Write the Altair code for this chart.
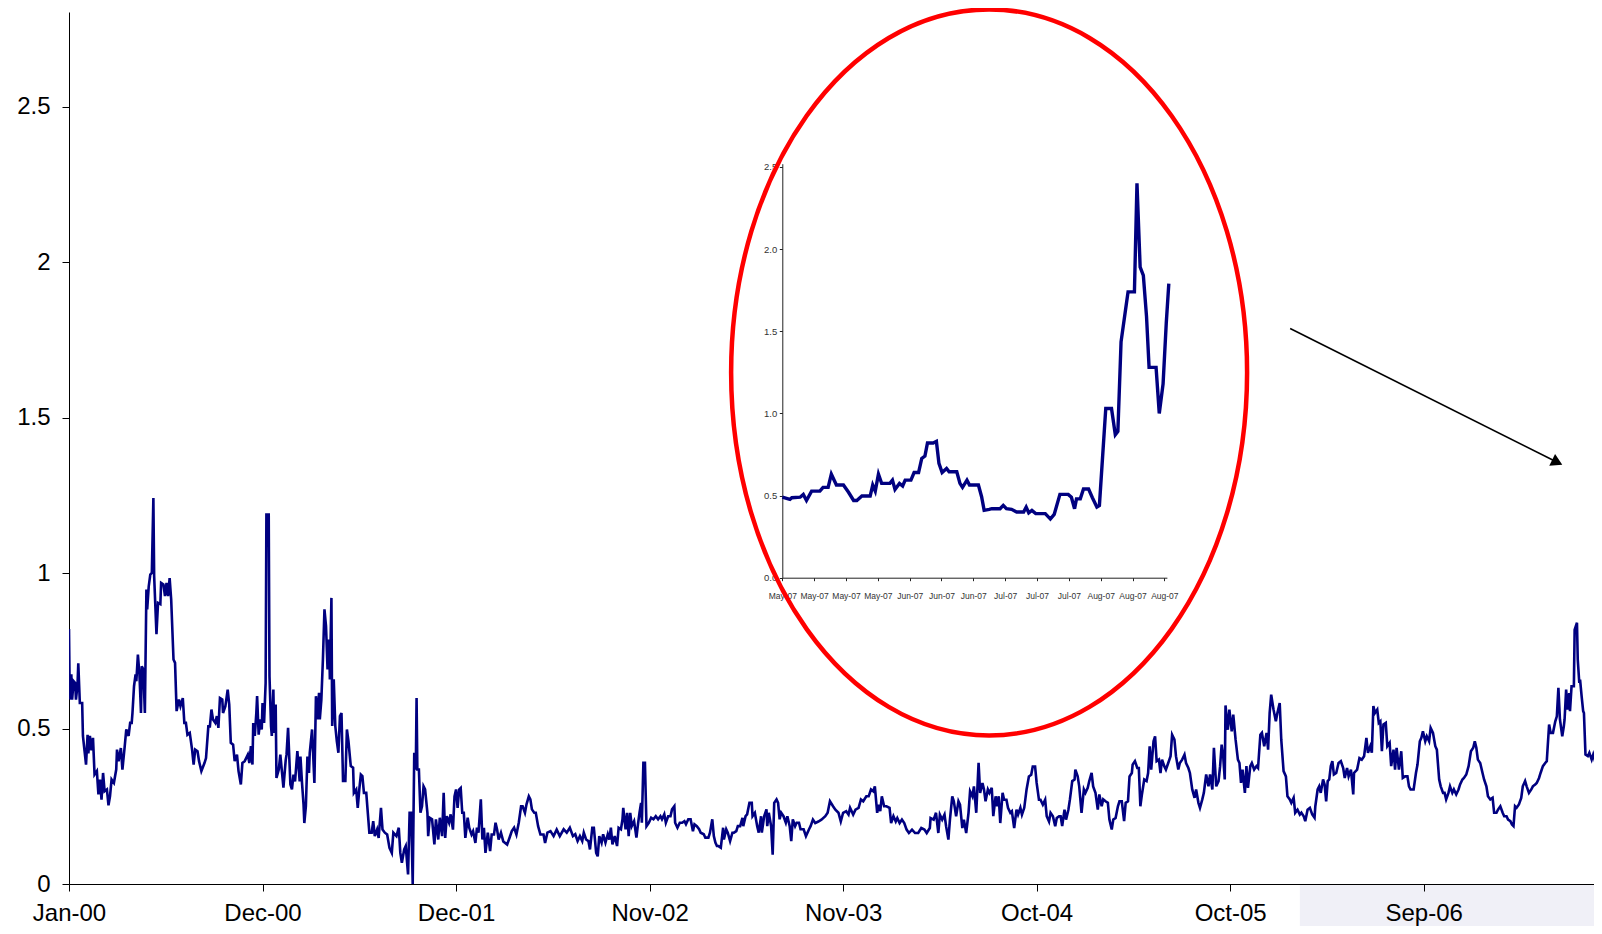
import json
import altair as alt
import pandas as pd

# ---------------- data (trading-day index, value) ----------------
seg_2000 = [(0,0.82),(1,0.593),(3,0.674),(4,0.593),(6,0.652),(8,0.646),(9,0.593),(11,0.64),(12,0.71),(14,0.582),
            (17,0.582),(18,0.476),(20,0.43),(22,0.384),(24,0.48),(25,0.42),(27,0.476),(29,0.43),(31,0.47),(33,0.352),
            (36,0.363),(38,0.288),(40,0.336),(42,0.271),(44,0.357),(46,0.298),(49,0.304),(51,0.253),(53,0.283),(55,0.336),
            (58,0.325),(61,0.368),(62,0.432),(64,0.395),(67,0.437),(69,0.368),(72,0.443),(74,0.497),(77,0.476),(79,0.518),
            (81,0.518),(82,0.55),(84,0.636),(86,0.674),(87,0.652),(89,0.738),(91,0.674),(93,0.55),(94,0.70),(96,0.69),
            (98,0.55),(100,0.947),(101,0.883),(103,0.957),(105,0.995),(107,1.0),(109,1.241),(110,0.99),(113,0.803),(115,0.904),
            (118,0.90),(119,0.968),(122,0.963),(124,0.926),(126,0.968),(128,0.926),(130,0.984),(132,0.915),(135,0.722),(137,0.711),
            (139,0.556),(142,0.593),(144,0.572),(147,0.598),(149,0.518),(151,0.518),(153,0.48),(156,0.486),(159,0.432),(161,0.384),
            (163,0.432),(166,0.427),(168,0.395),(171,0.363),(175,0.389),(177,0.405),(180,0.507),(182,0.507),(184,0.561),(186,0.529),
            (189,0.518),(191,0.54),(193,0.502),(195,0.598),(198,0.593),(199,0.55),(202,0.572),(205,0.625),(207,0.577),(209,0.454),
            (212,0.448),(214,0.395),(217,0.416),(219,0.363),(222,0.32),(224,0.389),(227,0.395),(231,0.416),(233,0.389),(235,0.443),
            (237,0.384),(238,0.518),(240,0.476),(242,0.55),(243,0.604),(245,0.48),(247,0.529),(249,0.497),(250,0.582),(252,0.518),
            (254,0.646),(255,1.188),(258,1.188),(259,0.668),(261,0.507),(262,0.476),(264,0.625),(265,0.486),(267,0.577),(268,0.341),
            (271,0.368),(273,0.416),(275,0.363),(277,0.31),(280,0.40),(281,0.416),(283,0.502),(286,0.32),(288,0.304),(290,0.352),
            (292,0.33),(295,0.427),(298,0.33),(299,0.41),(301,0.325),(303,0.255),(304,0.196),(306,0.25),(308,0.41),(310,0.357)]

seg_2001 = [(311,0.422),(314,0.497),(317,0.325),(319,0.604),(321,0.529),(323,0.615),(324,0.529),(326,0.593),(328,0.722),(330,0.883),
            (332,0.829),(334,0.69),(336,0.786),(337,0.658),(339,0.92),(340,0.508),(342,0.658),(344,0.508),(346,0.459),(348,0.422),
            (350,0.54),(352,0.55),(354,0.331),(357,0.331),(359,0.497),(361,0.459),(364,0.379),(367,0.374),(368,0.293),(371,0.304),
            (373,0.245),(375,0.304),(377,0.352),(379,0.347),(381,0.293),(384,0.293),(386,0.229),(388,0.165),(391,0.165),(393,0.202),
            (395,0.154),(398,0.175),(400,0.148),(403,0.245),(405,0.175),(408,0.165),(411,0.159),(414,0.116),(417,0.1),(419,0.165),
            (423,0.154),(426,0.181),(428,0.1),(430,0.068),(433,0.111),(435,0.122),(438,0.031),(440,0.229),(442,0.229),(444,0.0),
            (446,0.422),(448,0.368),(449,0.598),(450,0.368),(452,0.368),(454,0.229),(456,0.25),(458,0.314),(460,0.304),(463,0.229),
            (464,0.154),(466,0.213),(469,0.208),(472,0.127),(474,0.208),(477,0.143),(479,0.213),(482,0.154),(484,0.293),(486,0.148),
            (488,0.218),(491,0.197),(493,0.224),(496,0.175),(498,0.282),(500,0.304),(502,0.245),(504,0.304),(506,0.309),(508,0.229),
            (510,0.229),(512,0.148),(515,0.213),(517,0.181),(520,0.159),(522,0.17),(525,0.132),(527,0.181),(529,0.165),(532,0.272),
            (534,0.143),(536,0.181),(538,0.1),(541,0.165),(544,0.106),(546,0.159),(549,0.159),(551,0.197),(553,0.175),(555,0.143),
            (558,0.165),(561,0.137),(566,0.127),(569,0.148),(572,0.17),(575,0.181),(578,0.159),(581,0.197),(584,0.25),(586,0.25),
            (589,0.229),(591,0.256),(594,0.282),(596,0.272),(598,0.24),(601,0.229),(603,0.229),(606,0.186),(609,0.159),(613,0.159),
            (615,0.132),(618,0.165),(622,0.17),(626,0.154),(630,0.175)]

seg_2002 = [(634,0.154),(639,0.176),(643,0.165),(647,0.181),(651,0.154),(654,0.16),(657,0.138),(660,0.154),(663,0.138),(665,0.165),
            (668,0.143),(671,0.138),(673,0.111),(676,0.181),(678,0.181),(681,0.1),(683,0.089),(685,0.154),(688,0.133),(690,0.16),
            (693,0.133),(696,0.16),(698,0.143),(700,0.181),(702,0.127),(705,0.154),(708,0.122),(710,0.181),(713,0.176),(715,0.208),
            (716,0.245),(719,0.176),(721,0.229),(723,0.154),(725,0.229),(727,0.186),(730,0.202),(733,0.149),(735,0.192),(737,0.229),
            (739,0.261),(740,0.197),(742,0.39),(744,0.39),(746,0.186),(749,0.197),(752,0.213),(755,0.208),(758,0.218),(761,0.208),
            (764,0.218),(766,0.208),(769,0.224),(771,0.197),(774,0.218),(777,0.218),(779,0.24),(782,0.25),(783,0.197),(786,0.181),
            (789,0.197),(792,0.197),(795,0.202),(797,0.192),(800,0.208),(803,0.208),(806,0.17),(808,0.192),(811,0.186),(814,0.176),
            (816,0.165),(820,0.16),(822,0.149),(826,0.149),(828,0.165),(831,0.208),(833,0.154),(835,0.133),(837,0.122),(839,0.122),
            (842,0.117),(845,0.181),(846,0.143),(849,0.176),(851,0.165),(854,0.138),(857,0.165),(859,0.165),(862,0.17),(864,0.186),
            (867,0.186),(870,0.213),(871,0.186),(874,0.218),(876,0.224),(879,0.261),(882,0.261),(883,0.218),(886,0.229),(889,0.186),
            (891,0.165),(894,0.218),(895,0.165),(898,0.218),(901,0.24),(902,0.186),(904,0.229),(907,0.186),(909,0.094),(911,0.261),
            (914,0.272),(916,0.261),(918,0.208),(920,0.229),(923,0.218),(926,0.197),(928,0.218),(931,0.186),(933,0.138),(935,0.208),
            (938,0.186),(940,0.197),(943,0.197),(945,0.176),(949,0.176),(952,0.154),(956,0.176),(958,0.186)]

seg_2003 = [(961,0.207),(964,0.196),(968,0.201),(972,0.207),(977,0.218),(980,0.229),(983,0.266),(987,0.25),(990,0.239),(994,0.229),
            (997,0.201),(1000,0.229),(1004,0.234),(1007,0.223),(1009,0.245),(1013,0.223),(1016,0.239),(1020,0.245),(1023,0.272),(1026,0.266),
            (1030,0.282),(1033,0.282),(1036,0.304),(1039,0.298),(1041,0.314),(1044,0.229),(1046,0.255),(1048,0.234),(1050,0.282),(1053,0.25),
            (1056,0.25),(1060,0.245),(1062,0.196),(1065,0.218),(1068,0.201),(1070,0.212),(1073,0.196),(1076,0.207),(1079,0.196),(1082,0.175),
            (1085,0.164),(1089,0.175),(1093,0.164),(1097,0.164),(1101,0.18),(1105,0.175),(1108,0.164),(1112,0.18),(1113,0.212),(1117,0.207),
            (1120,0.229),(1123,0.164),(1125,0.223),(1128,0.207),(1131,0.223),(1133,0.186),(1136,0.143),(1138,0.207),(1141,0.282),(1143,0.266),
            (1146,0.218),(1149,0.266),(1151,0.255),(1154,0.18),(1156,0.207),(1159,0.164),(1162,0.229),(1164,0.298),(1167,0.282),(1169,0.314),
            (1172,0.229),(1175,0.39),(1177,0.293),(1180,0.325),(1182,0.304),(1184,0.266),(1187,0.304),(1189,0.293),(1192,0.309),(1194,0.218),
            (1197,0.282),(1199,0.25),(1201,0.282),(1203,0.196),(1206,0.293),(1208,0.271),(1211,0.271),(1213,0.245),(1216,0.229),(1218,0.234),
            (1221,0.18),(1224,0.239),(1226,0.223),(1229,0.245),(1231,0.223),(1234,0.245),(1237,0.304),(1240,0.346),(1243,0.351),(1245,0.378),
            (1248,0.378),(1250,0.325),(1253,0.271),(1255,0.271),(1258,0.255),(1261,0.271),(1263,0.218),(1266,0.201),(1268,0.229),(1271,0.218),
            (1274,0.186),(1276,0.212),(1279,0.218),(1281,0.218)]

seg_2005 = [(1283,0.186),(1286,0.239),(1288,0.207),(1291,0.239),(1293,0.272),(1296,0.331),(1299,0.336),(1300,0.368),(1303,0.346),(1305,0.314),
            (1308,0.229),(1311,0.304),(1313,0.293),(1316,0.309),(1318,0.331),(1321,0.357),(1323,0.314),(1326,0.293),(1329,0.239),(1331,0.288),
            (1334,0.25),(1336,0.272),(1339,0.266),(1342,0.261),(1344,0.207),(1347,0.175),(1349,0.207),(1352,0.212),(1355,0.25),(1357,0.266),
            (1360,0.266),(1363,0.202),(1365,0.261),(1368,0.266),(1370,0.346),(1373,0.357),(1374,0.384),(1377,0.395),(1380,0.373),(1382,0.373),
            (1384,0.25),(1386,0.288),(1389,0.336),(1392,0.331),(1394,0.357),(1396,0.443),(1398,0.368),(1401,0.459),(1403,0.475),(1405,0.395),
            (1408,0.4),(1410,0.357),(1412,0.4),(1415,0.378),(1417,0.368),(1420,0.389),(1423,0.411),(1425,0.48),(1428,0.464),(1430,0.411),
            (1433,0.368),(1435,0.389),(1438,0.4),(1441,0.416),(1443,0.389),(1446,0.373),(1448,0.357),(1451,0.304),(1454,0.277),(1456,0.304),
            (1459,0.261),(1461,0.245),(1464,0.272),(1466,0.293),(1469,0.352),(1472,0.314),(1474,0.352),(1477,0.304),(1479,0.438),(1482,0.314),
            (1485,0.331),(1487,0.379),(1489,0.448),(1491,0.411),(1493,0.336),(1494,0.574),(1497,0.496),(1499,0.561),(1502,0.491),(1504,0.545),
            (1507,0.464),(1510,0.4),(1512,0.389),(1514,0.325),(1516,0.368),(1519,0.293),(1521,0.379),(1523,0.309),(1526,0.379),(1528,0.389),
            (1531,0.368),(1534,0.379),(1536,0.373),(1539,0.48),(1541,0.486),(1544,0.443),(1547,0.486),(1549,0.432),(1551,0.55),(1553,0.609),
            (1556,0.561),(1559,0.523),(1561,0.55),(1564,0.582),(1566,0.464),(1569,0.363),(1572,0.346),(1574,0.282),(1577,0.272),(1579,0.261),
            (1582,0.277),(1584,0.229),(1587,0.239),(1590,0.223),(1592,0.229),(1595,0.218),(1597,0.202),(1600,0.239)]

seg_2006 = [(1603,0.245),(1606,0.224),(1609,0.213),(1610,0.25),(1613,0.304),(1615,0.314),(1617,0.293),(1620,0.336),(1622,0.32),(1624,0.266),
            (1626,0.331),(1628,0.336),(1630,0.379),(1632,0.395),(1634,0.352),(1637,0.357),(1640,0.389),(1643,0.395),(1646,0.373),(1648,0.341),
            (1651,0.373),(1653,0.346),(1656,0.368),(1659,0.288),(1660,0.357),(1664,0.368),(1667,0.405),(1670,0.4),(1673,0.411),(1676,0.47),
            (1678,0.422),(1681,0.443),(1683,0.422),(1685,0.572),(1687,0.55),(1690,0.561),(1692,0.518),(1694,0.523),(1696,0.427),(1698,0.513),
            (1701,0.518),(1703,0.443),(1706,0.454),(1708,0.379),(1711,0.432),(1713,0.368),(1715,0.438),(1718,0.368),(1721,0.427),(1723,0.341),
            (1726,0.346),(1729,0.346),(1731,0.314),(1733,0.304),(1737,0.304),(1740,0.357),(1742,0.384),(1745,0.459),(1747,0.47),(1749,0.491),
            (1752,0.459),(1754,0.475),(1757,0.459),(1759,0.502),(1762,0.486),(1765,0.443),(1767,0.432),(1770,0.336),(1772,0.314),(1775,0.293),
            (1777,0.293),(1779,0.272),(1782,0.293),(1784,0.314),(1787,0.293),(1789,0.304),(1792,0.288),(1795,0.304),(1797,0.32),(1800,0.336),
            (1802,0.341),(1805,0.352),(1808,0.379),(1811,0.427),(1814,0.438),(1816,0.459),(1818,0.438),(1820,0.4),(1823,0.389),(1826,0.357),
            (1828,0.336),(1831,0.314),(1833,0.282),(1836,0.272),(1839,0.277),(1841,0.229),(1844,0.229),(1846,0.239),(1849,0.25),(1852,0.229),
            (1854,0.218),(1857,0.218),(1859,0.207),(1862,0.202),(1864,0.191),(1866,0.186),(1868,0.25),(1870,0.245),(1873,0.256),(1876,0.277),
            (1878,0.314),(1881,0.331),(1883,0.314),(1886,0.293),(1889,0.304),(1891,0.314),(1894,0.32),(1896,0.325),(1899,0.341),(1901,0.357),
            (1904,0.379),(1907,0.389),(1909,0.395),(1912,0.513),(1914,0.486),(1917,0.486),(1920,0.523),(1922,0.539),(1924,0.631),(1926,0.529),
            (1929,0.475),(1931,0.507),(1932,0.529),(1934,0.625),(1936,0.561),(1938,0.614),(1939,0.556),(1941,0.636),(1944,0.636),(1945,0.818),
            (1948,0.84),(1949,0.722),(1951,0.647),(1952,0.657),(1954,0.604),(1956,0.556),(1957,0.55),(1959,0.416),(1962,0.411),(1964,0.422),
            (1967,0.4),(1969,0.416),(1972,0.389),(1974,0.357),(1975,0.513),(1978,0.507),(1981,0.518)]

main_tick_days = [0, 250, 500, 750, 1000, 1250, 1500, 1750]
main_tick_labels = ["Jan-00", "Dec-00", "Dec-01", "Nov-02", "Nov-03", "Oct-04", "Oct-05", "Sep-06"]
y_ticks = [0, 0.5, 1, 1.5, 2, 2.5]

# inset (May-Aug 2007), x = trading-day index inside the inset
inset_pts = [(0.0,0.49),(1.2,0.477),(1.5,0.487),(2.8,0.49),(3.3,0.507),(3.8,0.47),(4.6,0.527),(5.9,0.527),(6.4,0.55),(7.2,0.55),
             (7.7,0.63),(8.5,0.564),(9.6,0.564),(10.4,0.52),(11.2,0.47),(11.7,0.47),(12.5,0.497),(13.8,0.497),(14.2,0.564),(14.6,0.527),
             (15.1,0.63),(15.6,0.574),(16.9,0.574),(17.3,0.594),(17.7,0.537),(18.4,0.574),(18.9,0.558),(19.3,0.594),(20.2,0.594),(20.7,0.64),
             (21.4,0.64),(21.9,0.726),(22.4,0.74),(22.8,0.82),(23.7,0.82),(24.2,0.83),(24.6,0.696),(25.1,0.64),(25.8,0.665),(26.2,0.645),
             (27.4,0.645),(27.9,0.574),(28.3,0.55),(29.0,0.594),(29.4,0.564),(30.8,0.564),(31.3,0.493),(31.7,0.41),(32.5,0.416),(32.9,0.42),
             (34.2,0.42),(34.7,0.44),(35.2,0.42),(36.0,0.416),(36.8,0.40),(37.9,0.40),(38.3,0.43),(38.7,0.395),(39.2,0.41),(39.8,0.39),
             (41.3,0.39),(42.1,0.357),(42.7,0.385),(43.6,0.507),(44.9,0.507),(45.4,0.49),(45.9,0.42),(46.2,0.48),(46.8,0.48),(47.3,0.54),
             (48.1,0.54),(48.7,0.487),(49.4,0.43),(49.8,0.44),(50.8,1.03),(51.7,1.03),(52.3,0.87),(52.7,0.89),(53.2,1.436),(53.9,1.63),
             (54.3,1.74),(55.3,1.74),(55.7,2.40),(56.2,1.89),(56.7,1.84),(57.2,1.59),(57.6,1.28),(58.7,1.28),(59.2,1.00),(59.8,1.18),
             (60.3,1.55),(60.7,1.79)]
inset_tick_days = [0, 5, 10, 15, 20, 25, 30, 35, 40, 45, 50, 55, 60]
inset_tick_labels = ["May-07", "May-07", "May-07", "May-07", "Jun-07", "Jun-07", "Jun-07",
                     "Jul-07", "Jul-07", "Jul-07", "Aug-07", "Aug-07", "Aug-07"]
inset_y_ticks = [0, 0.5, 1.0, 1.5, 2.0, 2.5]

# annotations, in main-chart data units
ellipse_center = [(1188.6, 1.645)]
arrow_segment = [(1577.5, 1.786, 1922.5, 1.356)]
slide_patch = [(1590, 0.0, 2010, -0.16)]

# ---------------- build tables ----------------
main_pts = seg_2000 + seg_2001 + seg_2002 + seg_2003 + seg_2005 + seg_2006
df_main = pd.DataFrame(main_pts, columns=["day", "val"])
df_inset = pd.DataFrame(inset_pts, columns=["day", "val"])
df_ell = pd.DataFrame(ellipse_center, columns=["day", "val"])
df_arrow = pd.DataFrame(arrow_segment, columns=["day", "val", "day2", "val2"])
df_head = pd.DataFrame([(a[2], a[3]) for a in arrow_segment], columns=["day", "val"])
df_patch = pd.DataFrame(slide_patch, columns=["day", "val", "day2", "val2"])

FONT = "Liberation Sans, Arial, sans-serif"
NAVY = "#000080"

x_main = alt.X("day:Q",
               scale=alt.Scale(domain=[0, 1970], nice=False, zero=False),
               axis=alt.Axis(orient="bottom", values=main_tick_days,
                             labelExpr=json.dumps(main_tick_labels) + "[round(datum.value / 250)]",
                             title=None, grid=False, domainColor="black", domainWidth=1,
                             tickColor="black", tickSize=7, tickWidth=1,
                             labelFont=FONT, labelFontSize=24, labelColor="black",
                             labelPadding=10, labelOverlap=False, labelFlush=False, zindex=1))
y_main = alt.Y("val:Q",
               scale=alt.Scale(domain=[0, 2.804], nice=False, zero=False),
               axis=alt.Axis(orient="left", values=y_ticks, format=".1~f",
                             title=None, grid=False, domainColor="black", domainWidth=1,
                             tickColor="black", tickSize=7, tickWidth=1,
                             labelFont=FONT, labelFontSize=24, labelColor="black",
                             labelPadding=12, labelOverlap=False, labelFlush=False))

patch = alt.Chart(df_patch).mark_rect(color="#F0F0F7").encode(
    x=x_main, y=y_main, x2="day2:Q", y2="val2:Q")

line = alt.Chart(df_main).mark_line(color=NAVY, strokeWidth=2.6, clip=True).encode(
    x=x_main, y=y_main)

ELLIPSE_PATH = "M-0.7107,0A0.7107,1,0,1,0,0.7107,0A0.7107,1,0,1,0,-0.7107,0Z"
ellipse = alt.Chart(df_ell).mark_point(shape=ELLIPSE_PATH, size=527076, filled=False,
                                       color="#FF0000", strokeWidth=4.5, opacity=1).encode(
    x=x_main, y=y_main)

arrow_rule = alt.Chart(df_arrow).mark_rule(color="black", strokeWidth=1.6).encode(
    x=x_main, y=y_main, x2="day2:Q", y2="val2:Q")

arrow_head = alt.Chart(df_head).mark_point(shape="triangle-right", angle=26.4, size=170,
                                           filled=True, color="black", opacity=1).encode(
    x=x_main, y=y_main)

inset = alt.Chart(df_inset).mark_line(color=NAVY, strokeWidth=3.4).encode(
    x=alt.X("day:Q",
            scale=alt.Scale(domain=[0, 60.4], range=[713.3, 1097.9], nice=False, zero=False),
            axis=alt.Axis(orient="bottom", offset=-306.3, values=inset_tick_days,
                          labelExpr=json.dumps(inset_tick_labels) + "[round(datum.value / 5)]",
                          title=None, grid=False, domainColor="#222222", tickColor="#222222",
                          tickSize=3, labelFont=FONT, labelFontSize=8.5, labelColor="#333333",
                          labelPadding=11, labelOverlap=False, labelFlush=False)),
    y=alt.Y("val:Q",
            scale=alt.Scale(domain=[0, 2.52], range=[565.7, 151.7], nice=False, zero=False),
            axis=alt.Axis(orient="left", offset=-713.3, values=inset_y_ticks, format=".1f",
                          title=None, grid=False, domainColor="#222222", tickColor="#222222",
                          tickSize=3, labelFont=FONT, labelFontSize=9.5, labelColor="#333333",
                          labelPadding=2.5, labelOverlap=False, labelFlush=False)),
)

main_layer = alt.layer(patch, line, ellipse, arrow_rule, arrow_head)

chart = alt.layer(inset, main_layer).resolve_scale(
    x="independent", y="independent"
).properties(
    width=1525, height=872,
    padding={"left": 61, "top": 4, "right": 0, "bottom": 42},
    autosize=alt.AutoSizeParams(type="none"),
    background="white",
).configure_view(stroke=None)

chart.save("out.html", embed_options={"renderer": "svg", "actions": False})
